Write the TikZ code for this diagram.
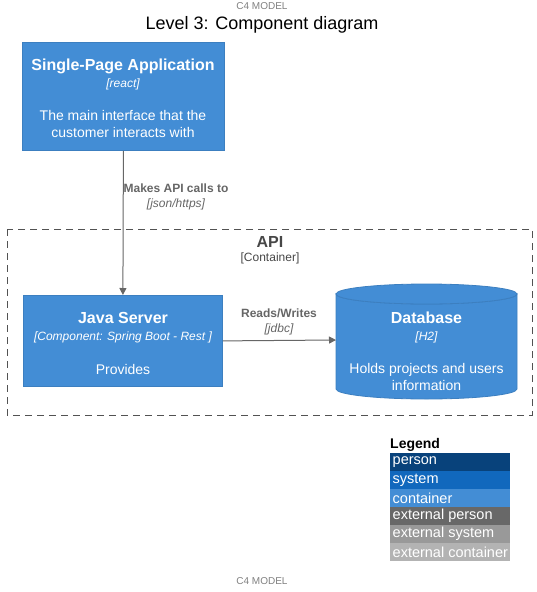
\documentclass[tikz,border=0pt]{standalone}
\usepackage{fontspec}
\setmainfont{Liberation Sans}
\usetikzlibrary{arrows.meta}

\definecolor{c4person}{HTML}{08427B}
\definecolor{c4system}{HTML}{1168BD}
\definecolor{c4container}{HTML}{438DD5}
\definecolor{c4border}{HTML}{3C7FC0}
\definecolor{c4extperson}{HTML}{686868}
\definecolor{c4extsystem}{HTML}{999999}
\definecolor{c4extcontainer}{HTML}{B3B3B3}
\definecolor{c4line}{HTML}{666666}

\begin{document}
\begin{tikzpicture}[x=1pt, y=-1pt,
    comp box/.style={draw=c4border, fill=c4container, line width=0.8pt,
                     anchor=north west, inner sep=0pt},
    box text/.style={text=white, align=center, font=\fontsize{14}{17}\selectfont},
    rel/.style={draw=c4line, line width=1pt, -{Triangle[length=7pt,width=7pt]}},
    rel label/.style={text=c4line, align=center, font=\fontsize{12}{15}\selectfont},
    legend row/.style={anchor=north west, minimum width=120pt, minimum height=18pt,
                       inner sep=0pt},
    legend text/.style={anchor=west, inner xsep=2.5pt, inner ysep=0pt, text=white,
                        font=\fontsize{14.5}{14.5}\selectfont}]

  \useasboundingbox (0,0) rectangle (537,592);

  % headings
  \node (top) at (262,6) {\fontsize{10}{10}\selectfont\color{gray}C4 MODEL};
  \node (title) at (262,25) {\fontsize{18}{18}\selectfont Level 3: Component diagram};
  \node (bottom) at (262,581) {\fontsize{10}{10}\selectfont\color{gray}C4 MODEL};

  % container boundary
  \draw[c4line!80!black, dashed, dash pattern=on 7pt off 5pt, line width=0.8pt]
       (7,229) rectangle (532,415);
  \node[text=c4line!70!black] (api) at (270,242)
       {\fontsize{16}{16}\selectfont\bfseries API};
  \node[text=c4line!70!black] (apitype) at (270,258)
       {\fontsize{12}{12}\selectfont[Container]};

  % components
  \node[comp box, minimum width=202pt, minimum height=108pt] (spa) at (22,42) {};
  \node[box text] at (123,98) {{\fontsize{16}{19}\selectfont\bfseries Single-Page Application}\\
       {\fontsize{12}{16}\selectfont\itshape [react]}\\[16pt]
       The main interface that the\\customer interacts with};

  \node[comp box, minimum width=199pt, minimum height=91pt] (java) at (23,295) {};
  \node[box text] at (123,343) {{\fontsize{16}{19}\selectfont\bfseries Java Server}\\
       {\fontsize{12}{16}\selectfont\itshape [Component: Spring Boot - Rest ]}\\[17pt]
       Provides};

  % database cylinder
  \coordinate (db) at (336,340);
  \draw[draw=c4border, fill=c4container, line width=0.8pt]
       (336,294) arc[x radius=90.5pt, y radius=10pt, start angle=180, end angle=360]
       -- (517,389) arc[x radius=90.5pt, y radius=10pt, start angle=0, end angle=-180]
       -- cycle;
  \draw[draw=c4border, fill=c4container, line width=0.8pt]
       (426.5,294) ellipse[x radius=90.5pt, y radius=10pt];
  \node[box text] (dbtext) at (426.5,351) {{\fontsize{16}{19}\selectfont\bfseries Database}\\
       {\fontsize{12}{16}\selectfont\itshape [H2]}\\[16pt]
       Holds projects and users\\information};

  % relations
  \draw[rel] (spa.south) -- (java.north);
  \node[rel label] at (176,197) {\bfseries Makes API calls to\\\itshape [json/https]};
  \draw[rel] (java.east) -- (db);
  \node[rel label] at (279,322) {\bfseries Reads/Writes\\\itshape [jdbc]};

  % legend
  \node[anchor=north west, inner sep=0pt] (legend) at (390,438)
       {\fontsize{14}{14}\selectfont\bfseries Legend};
  \node[legend row, fill=c4person] (l1) at (390,453) {};
  \node[legend row, fill=c4system] (l2) at (390,471) {};
  \node[legend row, fill=c4container] (l3) at (390,489) {};
  \node[legend row, fill=c4extperson] (l4) at (390,507) {};
  \node[legend row, fill=c4extsystem] (l5) at (390,525) {};
  \node[legend row, fill=c4extcontainer] (l6) at (390,543) {};
  \node[legend text] at (l1.west) {person};
  \node[legend text] at (l2.west) {system};
  \node[legend text] at (l3.west) {container};
  \node[legend text] at (l4.west) {external person};
  \node[legend text] at (l5.west) {external system};
  \node[legend text] at (l6.west) {external container};
\end{tikzpicture}
\end{document}
